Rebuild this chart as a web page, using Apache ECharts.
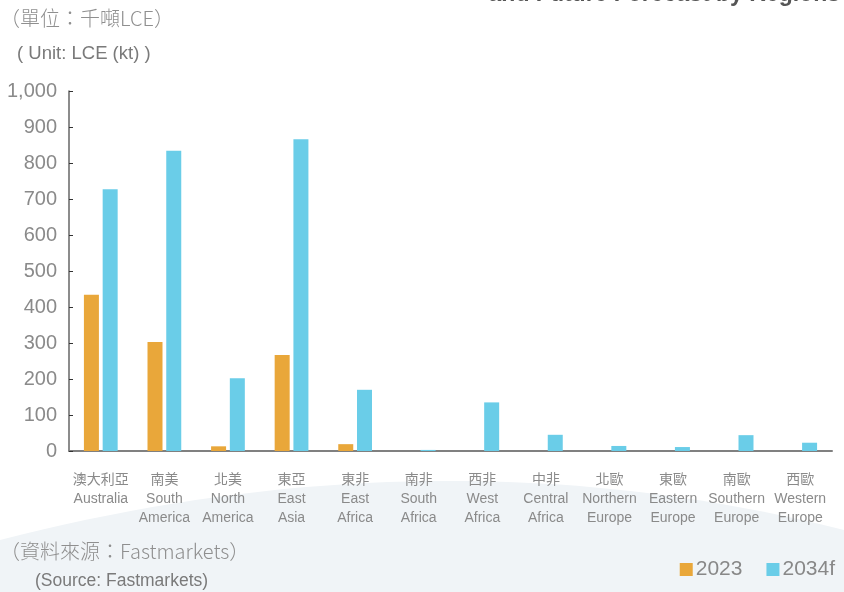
<!DOCTYPE html>
<html>
<head>
<meta charset="utf-8">
<script src="https://cdn.jsdelivr.net/npm/echarts@6/dist/echarts.min.js"></script>
<style>
html,body{margin:0;padding:0;background:#fff;}
#chart{width:844px;height:592px;}
</style>
</head>
<body>
<div id="chart"></div>
<script>
const categoriesZh = ['澳大利亞','南美','北美','東亞','東非','南非','西非','中非','北歐','東歐','南歐','西歐'];
const categoriesEn = ['Australia','South\nAmerica','North\nAmerica','East\nAsia','East\nAfrica','South\nAfrica','West\nAfrica','Central\nAfrica','Northern\nEurope','Eastern\nEurope','Southern\nEurope','Western\nEurope'];
const values2023 = [434, 303, 13, 267, 19, 0, 0, 0, 0, 0, 0, 0];
const values2034f = [727, 834, 202, 866, 170, 3, 135, 45, 14, 11, 44, 23];
const yTicks = [0, 100, 200, 300, 400, 500, 600, 700, 800, 900, 1000];

const FONT = '"Liberation Sans","Noto Sans CJK TC",sans-serif';
const categories = categoriesZh.map((z, i) => z + '\n' + categoriesEn[i]);

// decorative background wave (quadratic curve) as polygon points
const wave = [];
for (let k = 0; k <= 40; k++) {
  const t = k / 40;
  const a = (1 - t) * (1 - t), b = 2 * t * (1 - t), c = t * t;
  wave.push([a * 0 + b * 438 + c * 844, a * 540 + b * 427 + c * 530]);
}
wave.push([844, 592], [0, 592]);

const chart = echarts.init(document.getElementById('chart'));
chart.setOption({
  backgroundColor: '#ffffff',
  textStyle: { fontFamily: FONT },
  graphic: [
    { type: 'polygon', z: -10, silent: true,
      shape: { points: wave },
      style: { fill: '#f0f4f7' } },
    { type: 'text', right: 4, top: -17, style: { text: 'and Future Forecast by Regions', font: 'bold 23px ' + FONT, fill: '#555' } },
    { type: 'text', left: 0, top: 8, style: { text: '（單位：千噸LCE）', font: '300 20px "Noto Sans CJK TC",sans-serif', fill: '#8f8f8f' } },
    { type: 'text', left: 17, top: 45, style: { text: '( Unit: LCE (kt) )', font: '18.5px ' + FONT, fill: '#7a7a7a' } },
    { type: 'text', left: 0, top: 541, style: { text: '（資料來源：Fastmarkets）', font: '300 20px "Noto Sans CJK TC",sans-serif', fill: '#8f8f8f' } },
    { type: 'text', left: 35, top: 572, style: { text: '(Source: Fastmarkets)', font: '17.5px ' + FONT, fill: '#7a7a7a' } }
  ],
  legend: {
    right: 4, top: 554,
    itemWidth: 13, itemHeight: 13, itemGap: 24,
    icon: 'rect',
    textStyle: { fontSize: 21, color: '#888', fontFamily: FONT, padding: [0, 0, 0, -2] },
    data: ['2023', '2034f']
  },
  grid: { left: 69, right: 12, top: 91, bottom: 141, containLabel: false },
  xAxis: {
    type: 'category',
    data: categories,
    axisLine: { lineStyle: { color: '#808080', width: 2 } },
    axisTick: { inside: true, length: 5, lineStyle: { color: '#333', width: 1.2 } },
    axisLabel: {
      interval: 0, margin: 20, color: '#8a8a8a', fontSize: 14, lineHeight: 19,
      fontFamily: FONT
    }
  },
  yAxis: {
    type: 'value', min: 0, max: 1000, interval: 100,
    axisLine: { show: true, lineStyle: { color: '#666', width: 1.5 } },
    axisTick: { show: true, inside: true, length: 4, lineStyle: { color: '#333' } },
    splitLine: { show: false },
    axisLabel: {
      margin: 12, fontSize: 20, color: '#8a8a8a', fontFamily: FONT,
      formatter: v => yTicks.includes(v) ? v.toLocaleString('en-US') : ''
    }
  },
  series: [
    { name: '2023', type: 'bar', data: values2023, barWidth: 15, barGap: '25%',
      itemStyle: { color: '#e9a73a' } },
    { name: '2034f', type: 'bar', data: values2034f, barWidth: 15,
      itemStyle: { color: '#6acde8' } }
  ]
});
</script>
</body>
</html>
